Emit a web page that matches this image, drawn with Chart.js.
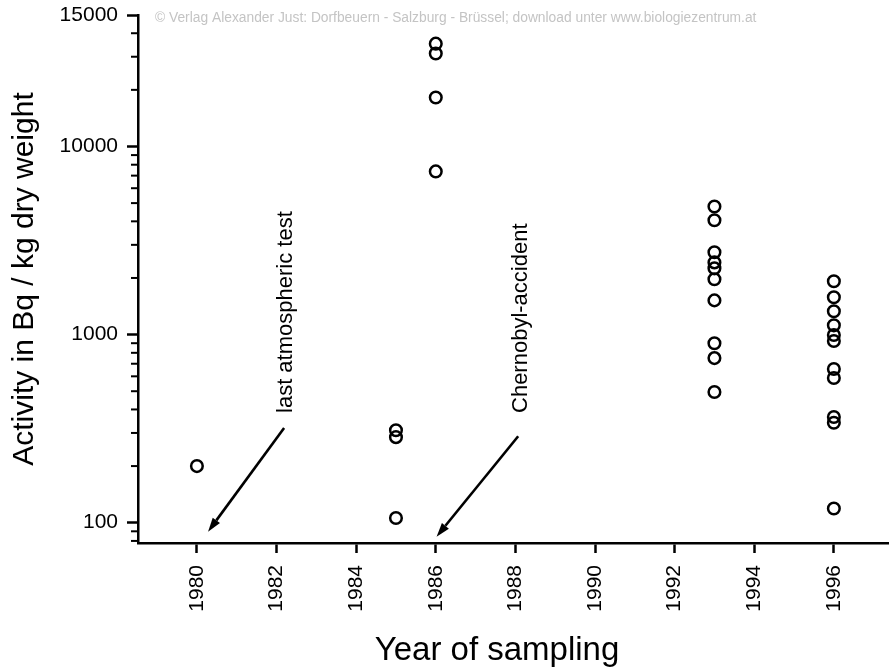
<!DOCTYPE html>
<html>
<head>
<meta charset="utf-8">
<script src="https://cdn.jsdelivr.net/npm/chart.js@4.4.0/dist/chart.umd.min.js"></script>
<style>
  html, body { margin: 0; padding: 0; background: #fff; }
  canvas { display: block; }
</style>
</head>
<body>
<canvas id="grafica" width="890" height="670"></canvas>
<script>
// valores (Bq / kg peso seco)
const years = [1980, 1985, 1986, 1993, 1996];
const activity1980 = [200];
const activity1985 = [310, 285, 106];
const activity1986 = [35200, 31200, 18200, 7370];
const activity1993 = [4800, 4050, 2740, 2420, 2250, 1970, 1520, 900, 750, 495];
const activity1996 = [1920, 1580, 1330, 1120, 995, 924, 656, 588, 365, 340, 119];

const xTicks = [1980, 1982, 1984, 1986, 1988, 1990, 1992, 1994, 1996];
const yTicks = [100, 1000, 10000, 50000];
const yTickLabels = ['100', '1000', '10000', '15000'];
const yMinorTicks = [80, 90, 200, 300, 400, 500, 600, 700, 800, 900,
  2000, 3000, 4000, 5000, 6000, 7000, 8000, 9000, 20000, 30000, 40000];

// notas con flecha (coordenadas en unidades de los datos)
const notes = [
  { text: 'last atmospheric test', textAt: [1982.39, 383], from: [1982.19, 319], to: [1980.28, 89.6] },
  { text: 'Chernobyl-accident', textAt: [1988.29, 383], from: [1988.07, 288], to: [1986.02, 84.3] }
];

const copyright = '\u00a9 Verlag Alexander Just: Dorfbeuern - Salzburg - Br\u00fcssel; download unter www.biologiezentrum.at';
const xTitle = 'Year of sampling';
const yTitle = 'Activity in Bq / kg dry weight';

const FONT = "'Liberation Sans', Arial, sans-serif";

const activityByYear = [activity1980, activity1985, activity1986, activity1993, activity1996];
const puntos = [];
years.forEach((yr, i) => {
  activityByYear[i].forEach((v) => puntos.push({ x: yr, y: v }));
});

const extras = {
  id: 'extras',
  afterDraw(chart) {
    const ctx = chart.ctx;
    const xs = chart.scales.x;
    const ys = chart.scales.y;
    const left = chart.chartArea.left;
    ctx.save();

    // ticks menores del eje y
    ctx.strokeStyle = '#000';
    ctx.lineWidth = 2;
    yMinorTicks.forEach((v) => {
      const py = ys.getPixelForValue(v);
      ctx.beginPath();
      ctx.moveTo(left - 7, py);
      ctx.lineTo(left, py);
      ctx.stroke();
    });

    // flechas y textos
    notes.forEach((n) => {
      const x1 = xs.getPixelForValue(n.from[0]);
      const y1 = ys.getPixelForValue(n.from[1]);
      const x2 = xs.getPixelForValue(n.to[0]);
      const y2 = ys.getPixelForValue(n.to[1]);
      const ang = Math.atan2(y2 - y1, x2 - x1);
      const head = 14;
      const bx = x2 - head * Math.cos(ang);
      const by = y2 - head * Math.sin(ang);
      ctx.lineWidth = 2.6;
      ctx.beginPath();
      ctx.moveTo(x1, y1);
      ctx.lineTo(bx, by);
      ctx.stroke();
      ctx.fillStyle = '#000';
      ctx.beginPath();
      ctx.moveTo(x2, y2);
      ctx.lineTo(bx + 4.5 * Math.sin(ang), by - 4.5 * Math.cos(ang));
      ctx.lineTo(bx - 4.5 * Math.sin(ang), by + 4.5 * Math.cos(ang));
      ctx.closePath();
      ctx.fill();

      const tx = xs.getPixelForValue(n.textAt[0]);
      const ty = ys.getPixelForValue(n.textAt[1]);
      ctx.save();
      ctx.translate(tx, ty);
      ctx.rotate(-Math.PI / 2);
      ctx.font = '22px ' + FONT;
      ctx.textAlign = 'left';
      ctx.textBaseline = 'alphabetic';
      ctx.fillText(n.text, 0, 0);
      ctx.restore();
    });

    // texto de copyright
    ctx.fillStyle = '#c4c4c4';
    ctx.font = '13.8px ' + FONT;
    ctx.textAlign = 'left';
    ctx.textBaseline = 'middle';
    ctx.fillText(copyright, 155, 18);

    // titulo del eje x
    ctx.fillStyle = '#000';
    ctx.font = '33px ' + FONT;
    ctx.textAlign = 'center';
    ctx.textBaseline = 'alphabetic';
    ctx.fillText(xTitle, 497, 660);

    ctx.restore();
  }
};

const ctx = document.getElementById('grafica').getContext('2d');
new Chart(ctx, {
  type: 'scatter',
  data: {
    datasets: [{
      label: 'Activity',
      data: puntos,
      pointStyle: 'circle',
      pointRadius: 5.8,
      pointBorderWidth: 2.5,
      pointBorderColor: '#000',
      pointBackgroundColor: 'rgba(0,0,0,0)'
    }]
  },
  options: {
    responsive: false,
    animation: false,
    events: [],
    layout: { autoPadding: false, padding: { top: 15, right: 2, left: 0, bottom: 0 } },
    plugins: {
      legend: { display: false },
      tooltip: { enabled: false }
    },
    scales: {
      x: {
        type: 'linear',
        min: 1978.52,
        max: 1997.36,
        afterBuildTicks: (scale) => {
          scale.ticks = xTicks.map((v) => ({ value: v }));
        },
        afterFit: (scale) => {
          scale.height = 127;
          scale.paddingLeft = 0;
          scale.paddingRight = 0;
        },
        border: { color: '#000', width: 2.5 },
        grid: { drawOnChartArea: false, tickLength: 10, tickWidth: 2.5, tickColor: '#000' },
        ticks: {
          autoSkip: false,
          maxRotation: 90,
          minRotation: 90,
          padding: 12,
          color: '#000',
          font: { family: FONT, size: 21 },
          callback: (v) => String(v)
        }
      },
      y: {
        type: 'logarithmic',
        min: 78,
        max: 50000,
        afterBuildTicks: (scale) => {
          scale.ticks = yTicks.map((v) => ({ value: v }));
        },
        afterFit: (scale) => {
          scale.width = 138;
          scale.paddingTop = 0;
          scale.paddingBottom = 0;
        },
        border: { color: '#000', width: 2.5 },
        grid: { drawOnChartArea: false, tickLength: 11, tickWidth: 2.5, tickColor: '#000' },
        title: {
          display: true,
          text: yTitle,
          color: '#000',
          padding: { top: 7, bottom: 4 },
          font: { family: FONT, size: 30 }
        },
        ticks: {
          padding: 9,
          color: '#000',
          font: { family: FONT, size: 21 },
          callback: (v, i) => yTickLabels[i]
        }
      }
    }
  },
  plugins: [extras]
});
</script>
</body>
</html>
